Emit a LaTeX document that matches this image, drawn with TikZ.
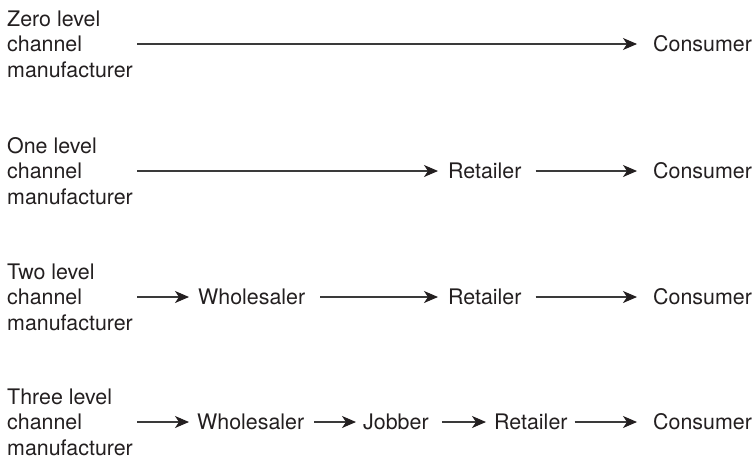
\documentclass[tikz,border=0pt]{standalone}
\usepackage{fontspec}
\setmainfont{TeX Gyre Heros}
\usetikzlibrary{arrows.meta}
\definecolor{ink}{HTML}{231F20}
\definecolor{linegray}{HTML}{3A3A3A}
\tikzset{
  lbl/.style={anchor=west, inner sep=0pt, align=left, text=ink,
    font=\fontsize{21.4pt}{25.6pt}\selectfont},
  stage/.style={anchor=west, inner sep=0pt, text=ink, text height=15.3pt, text depth=0pt,
    font=\fontsize{21.4pt}{25.6pt}\selectfont},
  flow/.style={draw=linegray, line width=1.1pt,
    -{Stealth[length=14pt, width=12pt, inset=4pt, color=ink]}}
}
\begin{document}
\begin{tikzpicture}[x=1pt, y=-1pt]
\useasboundingbox (0,0) rectangle (754,456);
% Row 1
\node[lbl] (lab1) at (7,44) {Zero level\\channel\\manufacturer};
\node[stage] (c1) at (653,44) {Consumer};
\draw[flow, shorten <=4pt, shorten >=16pt] (lab1.east) -- (c1.west);
% Row 2
\node[lbl] (lab2) at (7,171) {One level\\channel\\manufacturer};
\node[stage] (r2) at (448,171) {Retailer};
\node[stage] (c2) at (653,171) {Consumer};
\draw[flow, shorten <=4pt, shorten >=10pt] (lab2.east) -- (r2.west);
\draw[flow, shorten <=14pt, shorten >=16pt] (r2.east) -- (c2.west);
% Row 3
\node[lbl] (lab3) at (7,297) {Two level\\channel\\manufacturer};
\node[stage] (w3) at (198,297) {Wholesaler};
\node[stage] (r3) at (448,297) {Retailer};
\node[stage] (c3) at (653,297) {Consumer};
\draw[flow, shorten <=4pt, shorten >=9pt] (lab3.east) -- (w3.west);
\draw[flow, shorten <=15pt, shorten >=10pt] (w3.east) -- (r3.west);
\draw[flow, shorten <=14pt, shorten >=16pt] (r3.east) -- (c3.west);
% Row 4
\node[lbl] (lab4) at (7,422) {Three level\\channel\\manufacturer};
\node[stage] (w4) at (197,422) {Wholesaler};
\node[stage] (j4) at (363,422) {Jobber};
\node[stage] (r4) at (494,422) {Retailer};
\node[stage] (c4) at (653,422) {Consumer};
\draw[flow, shorten <=4pt, shorten >=8pt] (lab4.east) -- (w4.west);
\draw[flow, shorten <=10pt, shorten >=7pt] (w4.east) -- (j4.west);
\draw[flow, shorten <=13pt, shorten >=8pt] (j4.east) -- (r4.west);
\draw[flow, shorten <=7pt, shorten >=16pt] (r4.east) -- (c4.west);
\end{tikzpicture}
\end{document}
